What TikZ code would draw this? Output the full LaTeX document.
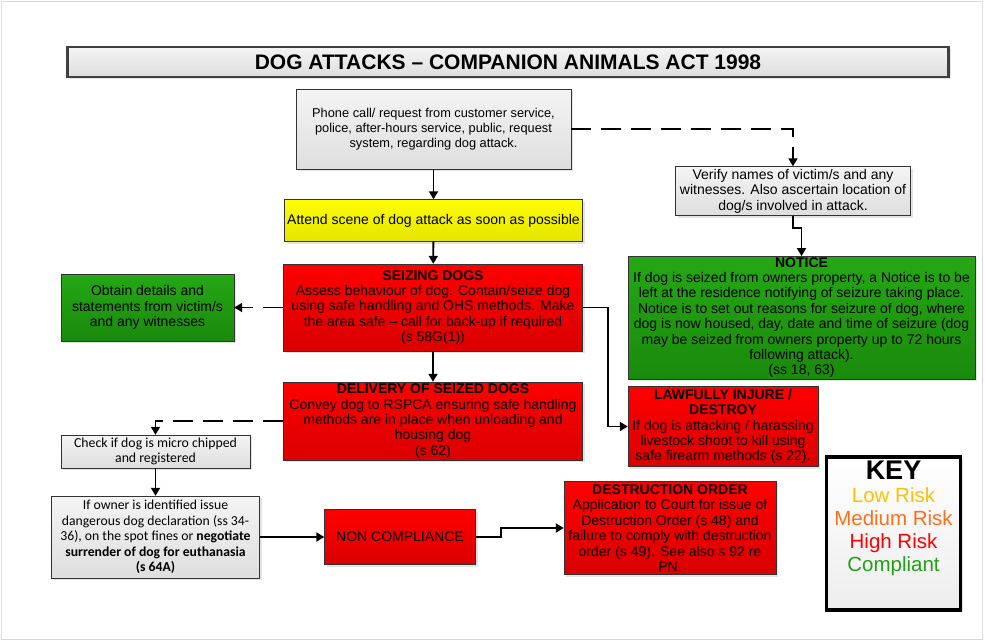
\documentclass[tikz,border=0pt]{standalone}
\usepackage{fontspec}
\setmainfont{Liberation Sans}
\newfontfamily\calfont{Carlito}
\usetikzlibrary{arrows.meta,shadows}

\definecolor{redtop}{HTML}{FF0000}
\definecolor{redbot}{HTML}{DA0000}
\definecolor{greentop}{HTML}{25A815}
\definecolor{greenbot}{HTML}{1A8A0C}
\definecolor{greytop}{HTML}{F4F4F4}
\definecolor{greybot}{HTML}{DEDEDE}
\definecolor{yellowtop}{HTML}{FFFF00}
\definecolor{yellowbot}{HTML}{E4E400}
\definecolor{lowrisk}{HTML}{FFC000}
\definecolor{medrisk}{HTML}{F8701E}
\definecolor{highrisk}{HTML}{FF0000}
\definecolor{okrisk}{HTML}{22A01A}

\begin{document}
\begin{tikzpicture}
	[x=1pt,y=-1pt,
	every node/.style={align=center,inner sep=1pt,font=\fontsize{14}{15.4}\selectfont},
	box/.style={draw=black!80,drop shadow={shadow xshift=2pt,shadow yshift=-2pt,fill=black!22}},
	greybox/.style={box,top color=greytop,bottom color=greybot},
	redbox/.style={box,top color=redtop,bottom color=redbot},
	greenbox/.style={box,top color=greentop,bottom color=greenbot},
	yellowbox/.style={box,top color=yellowtop,bottom color=yellowbot},
	flow/.style={line width=1.8pt,-{Triangle[length=8pt,width=9pt]}},
	dflow/.style={flow,dash pattern=on 20pt off 10pt}]
	\useasboundingbox (0,0) rectangle (985,641);
	\draw[black!15] (1,1) rectangle (982,639);
	
	\node[greybox,draw=black!75,line width=2.5pt,minimum width=881pt,minimum height=30pt,font=\bfseries\fontsize{21}{24}\selectfont] (title) at (508,62) {DOG ATTACKS -- COMPANION ANIMALS ACT 1998};
	\node[greybox,minimum width=275pt,minimum height=80pt,font=\fontsize{12.8}{15}\selectfont] (phone) at (433.5,129) {Phone call/ request from customer service,\\police, after-hours service, public, request\\system, regarding dog attack.};
	\node[yellowbox,minimum width=298pt,minimum height=42pt] (attend) at (433.5,220.5) {Attend scene of dog attack as soon as possible};
	\node[greybox,minimum width=235pt,minimum height=49pt] (verify) at (793,191) {Verify names of victim/s and any\\witnesses. Also ascertain location of\\dog/s involved in attack.};
	\node[greenbox,minimum width=347pt,minimum height=122pt] (notice) at (801.5,317.5) {\textbf{NOTICE}\\If dog is seized from owners property, a Notice is to be\\left at the residence notifying of seizure taking place.\\Notice is to set out reasons for seizure of dog, where\\dog is now housed, day, date and time of seizure (dog\\may be seized from owners property up to 72 hours\\following attack).\\(ss 18, 63)};
	\node[redbox,minimum width=299pt,minimum height=87pt] (seize) at (433,307.5) {\textbf{SEIZING DOGS}\\Assess behaviour of dog. Contain/seize dog\\using safe handling and OHS methods. Make\\the area safe -- call for back-up if required\\(s 58G(1))};
	\node[greenbox,minimum width=173pt,minimum height=67pt] (obtain) at (147.5,307.5) {Obtain details and\\statements from victim/s\\and any witnesses};
	\node[redbox,minimum width=299pt,minimum height=78pt] (deliver) at (433,421) {\textbf{DELIVERY OF SEIZED DOGS}\\Convey dog to RSPCA ensuring safe handling\\methods are in place when unloading and\\housing dog\\(s 62)};
	\node[redbox,minimum width=190pt,minimum height=80pt] (lawful) at (723,426.5) {\textbf{LAWFULLY INJURE /}\\\textbf{DESTROY}\\If dog is attacking / harassing\\livestock shoot to kill using\\safe firearm methods (s 22).};
	\node[greybox,minimum width=189pt,minimum height=33pt,font=\calfont\fontsize{13.8}{15}\selectfont] (check) at (155.5,451.5) {Check if dog is micro chipped\\and registered};
	\node[greybox,minimum width=208pt,minimum height=82pt,font=\calfont\fontsize{13.7}{15.5}\selectfont] (owner) at (155.5,537) {If owner is identified issue\\dangerous dog declaration (ss 34-\\36), on the spot fines or \textbf{negotiate}\\\textbf{surrender of dog for euthanasia}\\\textbf{(s 64A)}};
	\node[redbox,minimum width=151pt,minimum height=55pt] (noncomp) at (400,537) {NON COMPLIANCE};
	\node[redbox,minimum width=212pt,minimum height=93pt] (destroy) at (670,528) {\textbf{DESTRUCTION ORDER}\\Application to Court for issue of\\Destruction Order (s 48) and\\failure to comply with destruction\\order (s 49). See also s 92 re\\PN.};
	\node[box,draw=black,line width=3.5pt,top color=white,bottom color=black!7,minimum width=134pt,minimum height=153pt] (key) at (893.5,533.5) {};
	\node[anchor=north,font=\fontsize{20.5}{23.2}\selectfont] (keytext) at ([yshift=-4pt]key.north) {{\bfseries\fontsize{27}{28}\selectfont KEY}\\\textcolor{lowrisk}{Low Risk}\\\textcolor{medrisk}{Medium Risk}\\\textcolor{highrisk}{High Risk}\\\textcolor{okrisk}{Compliant}};
	
	\coordinate (jog) at (801.5,228);
	\coordinate (bend) at (501,537);
	
	\foreach \from/\to in {phone/attend,attend/seize,seize/deliver,check/owner,owner/noncomp}
	\draw[flow] (\from) -- (\to);
	\draw[dflow] (phone) -| (verify);
	\draw[flow] (verify) |- (jog) -- (notice);
	\draw[dflow] (seize) -- (obtain);
	\draw[flow] (seize.east) -- ++(25,0) |- (lawful);
	\draw[dflow] (deliver) -| (check);
	\draw[flow] (noncomp) -- (bend) |- (destroy);
\end{tikzpicture}
\end{document}
